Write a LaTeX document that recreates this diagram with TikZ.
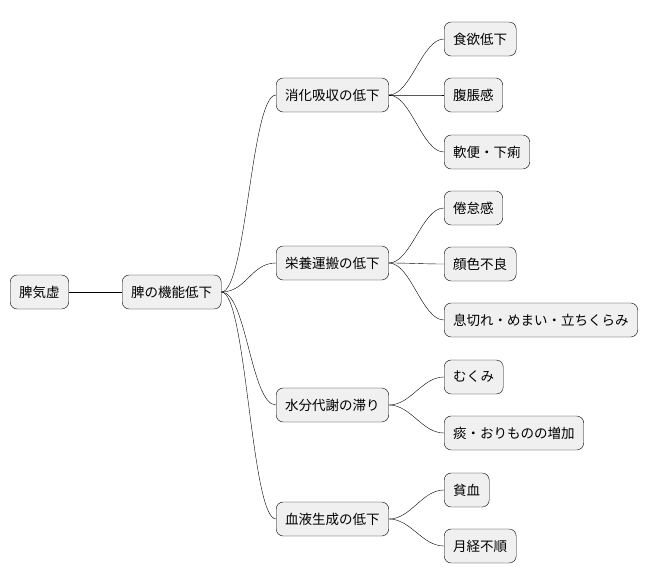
\documentclass[tikz,border=0pt]{standalone}
\usepackage{fontspec}
\setmainfont{Noto Sans CJK JP}
\usetikzlibrary{positioning}
\tikzset{
  box/.style={draw, fill=gray!12, rounded corners=7pt, minimum height=34pt, inner xsep=9pt, font=\fontsize{13.5}{15}\selectfont, anchor=west},
  link/.style={draw, thin}
}
\begin{document}
\begin{tikzpicture}[x=1pt,y=-1pt]
\useasboundingbox (0,0) rectangle (656,583);

% Nodes
\node[box] (root) at (10,292) {脾気虚};
\node[box] (func) at (122,292) {脾の機能低下};
\node[box] (dig) at (276,95) {消化吸収の低下};
\node[box] (nut) at (276,263) {栄養運搬の低下};
\node[box] (wat) at (276,405) {水分代謝の滞り};
\node[box] (blo) at (276,519) {血液生成の低下};

\node[box] (a1) at (444,39) {食欲低下};
\node[box] (a2) at (444,95) {腹脹感};
\node[box] (a3) at (444,152) {軟便・下痢};
\node[box] (b1) at (444,208) {倦怠感};
\node[box] (b2) at (444,264) {顔色不良};
\node[box] (b3) at (444,320) {息切れ・めまい・立ちくらみ};
\node[box] (c1) at (444,377) {むくみ};
\node[box] (c2) at (444,433) {痰・おりものの増加};
\node[box] (d1) at (444,490) {貧血};
\node[box] (d2) at (444,546) {月経不順};

% Connectors
\draw[link] (root.east) -- (func.west);
\foreach \c in {dig,nut,wat,blo}
  \draw[link] (func.east) .. controls +(25,0) and +(-25,0) .. (\c.west);
\foreach \p/\c in {dig/a1,dig/a2,dig/a3,nut/b1,nut/b2,nut/b3,wat/c1,wat/c2,blo/d1,blo/d2}
  \draw[link] (\p.east) .. controls +(22,0) and +(-22,0) .. (\c.west);

\end{tikzpicture}
\end{document}
